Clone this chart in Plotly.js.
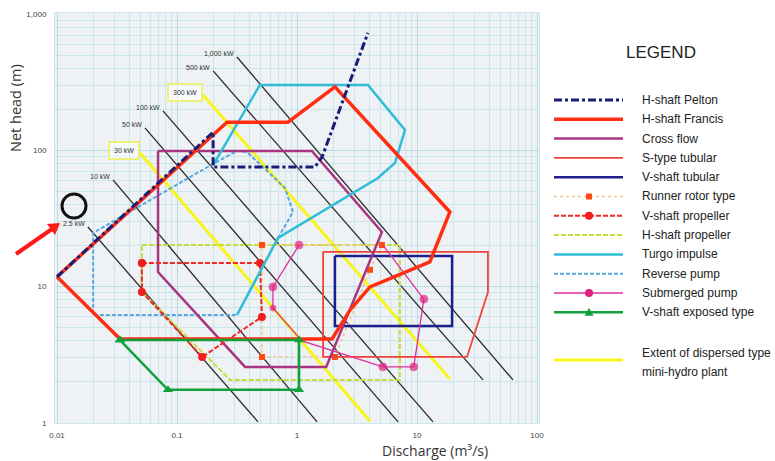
<!DOCTYPE html>
<html>
<head>
<meta charset="utf-8">
<script src="https://cdn.plot.ly/plotly-3.0.1.min.js"></script>
<style>
  html, body { margin: 0; padding: 0; background: #ffffff; }
  #chart { width: 775px; height: 461px; }
</style>
</head>
<body>
<div id="chart"></div>
<script>
// ---- Turbine application ranges: discharge Q (m3/s) vs net head H (m) ----
const peltonQ = [0.01, 0.2, 0.2, 1.41, 1.62, 3.9];
const peltonH = [11.8, 136, 75.5, 75.5, 89.5, 727];

const francisQ = [0.01, 0.261, 0.841, 2.07, 18.8, 12.8, 4.06, 2.77, 1.96, 0.0335, 0.01];
const francisH = [11.8, 161, 161, 292, 35.3, 15.2, 9.95, 6.75, 4.13, 4.13, 11.8];

const crossFlowQ = [0.0695, 1.33, 5.1, 1.75, 0.369, 0.0695, 0.0695];
const crossFlowH = [99, 99, 25.2, 2.58, 2.58, 12.8, 99];

const sTubularQ = [1.65, 39, 39, 26.1, 1.65, 1.65];
const sTubularH = [18, 18, 9.1, 3.05, 3.05, 18];

const vTubularQ = [2.07, 19.6, 19.6, 2.07, 2.07];
const vTubularH = [16.8, 16.8, 5.15, 5.15, 16.8];

const runnerRotorQ = [0.511, 5.1, 4.06, 2.07, 0.511, 0.511];
const runnerRotorH = [20.2, 20.2, 13.3, 3.05, 3.05, 20.2];

const vPropellerQ = [0.051, 0.491, 0.51, 0.162, 0.051, 0.051];
const vPropellerH = [14.9, 14.9, 6.0, 3.05, 9.15, 14.9];

const hPropellerQ = [0.051, 7.2, 7.2, 0.277, 0.051, 0.051];
const hPropellerH = [20.2, 20.2, 2.07, 2.07, 9.15, 20.2];

const turgoQ = [0.2, 0.491, 3.9, 7.94, 6.56, 4.73, 0.695, 0.316];
const turgoH = [78, 302, 302, 141, 80.9, 62.7, 22.8, 6.2];

const reversePumpQ = [0.695, 0.926, 0.794, 0.383, 0.316, 0.207, 0.02, 0.02, 0.316];
const reversePumpH = [22.8, 35.3, 53, 97.3, 99, 80.9, 24.8, 6.2, 6.2];

const submergedQ = [5.2, 11.4, 9.4, 5.2, 1.1, 0.63, 0.63, 1.04];
const submergedH = [20.2, 8.1, 2.58, 2.58, 4.0, 6.98, 9.95, 20.2];

const vExposedQ = [0.0335, 1.04, 1.04, 0.084, 0.0335];
const vExposedH = [4.06, 4.06, 1.75, 1.75, 4.06];

// ---- Constant output lines ----
const powerLabels = ['2.5 kW', '10 kW', '50 kW', '100 kW', '500 kW', '1,000 kW'];
const powerQStart = [0.0181, 0.0293, 0.0541, 0.0764, 0.2, 0.316];
const powerHStart = [27.4, 60.7, 146, 194.5, 383, 484];
const powerQEnd = [0.473, 1.47, 6.95, 13.6, 35.5, 63.1];
const powerHEnd = [1.02, 1.02, 1.02, 1.02, 2.07, 2.07];

// ---- Extent of dispersed type mini-hydro plant (30 kW and 300 kW) ----
const extentLabels = ['30 kW', '300 kW'];
const extentQStart = [0.0492, 0.165];
const extentHStart = [95.7, 255];
const extentQEnd = [4.06, 18.8];
const extentHEnd = [1.03, 2.1];

// ---- Axis ticks ----
const xTickVals = [0.01, 0.1, 1, 10, 100];
const xTickText = ['0.01', '0.1', '1', '10', '100'];
const yTickVals = [1, 10, 100, 1000];
const yTickText = ['1', '10', '100', '1,000'];

// ---- Legend entries ----
const legendNames = ['H-shaft Pelton', 'H-shaft Francis', 'Cross flow', 'S-type tubular',
  'V-shaft tubular', 'Runner rotor type', 'V-shaft propeller', 'H-shaft propeller',
  'Turgo impulse', 'Reverse pump', 'Submerged pump', 'V-shaft exposed type'];
const extentLegendLines = ['Extent of dispersed type', 'mini-hydro plant'];

// styles for each turbine type, in legend order
const styles = [
  { color: '#1b1b78', width: 3, dash: '8px,3px,3px,3px' },
  { color: '#ff2d12', width: 3.5, dash: 'solid' },
  { color: '#a83580', width: 2.5, dash: 'solid' },
  { color: '#f0443a', width: 1.8, dash: 'solid' },
  { color: '#1e1e8c', width: 2.5, dash: 'solid' },
  { color: '#f5c68a', width: 1.6, dash: 'dot', marker: 'square', mcolor: '#ff4a10', msize: 6 },
  { color: '#f02a2a', width: 2, dash: '5px,2px', marker: 'circle', mcolor: '#f01e1e', msize: 8 },
  { color: '#c9dc3c', width: 2, dash: '5px,2px' },
  { color: '#2ebcd6', width: 2.5, dash: 'solid' },
  { color: '#5aa6e0', width: 2, dash: '4px,2px' },
  { color: '#e0309a', width: 1.3, dash: 'solid', marker: 'circle', mcolor: '#e0207f', msize: 8 },
  { color: '#12a03c', width: 2.5, dash: 'solid', marker: 'triangle-up', mcolor: '#12a03c', msize: 9 }
];
const seriesQ = [peltonQ, francisQ, crossFlowQ, sTubularQ, vTubularQ, runnerRotorQ,
  vPropellerQ, hPropellerQ, turgoQ, reversePumpQ, submergedQ, vExposedQ];
const seriesH = [peltonH, francisH, crossFlowH, sTubularH, vTubularH, runnerRotorH,
  vPropellerH, hPropellerH, turgoH, reversePumpH, submergedH, vExposedH];
const yellow = '#f7f51c';

const traces = [];

// output lines first so the turbine outlines sit on top
powerLabels.forEach((lab, i) => {
  traces.push({
    x: [powerQStart[i], powerQEnd[i]], y: [powerHStart[i], powerHEnd[i]],
    mode: 'lines', line: { color: '#2a2a2a', width: 1.3 }, hoverinfo: 'skip', name: lab
  });
});
extentLabels.forEach((lab, i) => {
  traces.push({
    x: [extentQStart[i], extentQEnd[i]], y: [extentHStart[i], extentHEnd[i]],
    mode: 'lines', line: { color: yellow, width: 3 }, hoverinfo: 'skip', name: lab
  });
});

// draw order: lighter outlines below, bold ones above
const order = [7, 5, 9, 3, 4, 2, 10, 6, 8, 1, 11, 0];
order.forEach(k => {
  const s = styles[k];
  const t = {
    x: seriesQ[k], y: seriesH[k], name: legendNames[k], hoverinfo: 'skip',
    mode: s.marker ? 'lines+markers' : 'lines',
    line: { color: s.color, width: s.width, dash: s.dash }
  };
  if (s.marker) {
    t.marker = { symbol: s.marker, color: s.mcolor, size: s.msize };
    if (k === 10) t.marker.size = [0, 8, 8, 8, 0, 6, 8, 8];
  }
  traces.push(t);
});

// plot area geometry (pixels)
const L = 55, R = 236, T = 13, B = 38, W = 775, H = 461;
const plotW = W - L - R, plotH = H - T - B;
const px = x => (x - L) / plotW;
const py = y => (H - B - y) / plotH;

const annotations = [];
const shapes = [];

// labels on output lines
powerLabels.forEach((lab, i) => {
  annotations.push({
    x: Math.log10(powerQStart[i]), y: Math.log10(powerHStart[i]), xref: 'x', yref: 'y',
    text: lab, showarrow: false, xanchor: 'right', yanchor: 'middle', xshift: -1, yshift: 3,
    font: { family: 'Liberation Sans, Arial, sans-serif', size: 7, color: '#333' }
  });
});
extentLabels.forEach((lab, i) => {
  annotations.push({
    x: Math.log10(extentQStart[i]), y: Math.log10(extentHStart[i]), xref: 'x', yref: 'y',
    text: lab, showarrow: false, xanchor: 'right', yanchor: 'middle', xshift: 0, yshift: 2,
    bordercolor: '#eef07a', borderwidth: 2, borderpad: 4, bgcolor: 'rgba(255,255,255,0.5)',
    font: { family: 'Liberation Sans, Arial, sans-serif', size: 7, color: '#333' }
  });
});

// axis titles
annotations.push({
  x: px(435), y: py(450), xref: 'paper', yref: 'paper', showarrow: false,
  text: 'Discharge (m³/s)', xanchor: 'center', yanchor: 'middle',
  font: { family: 'Open Sans, sans-serif', size: 14, color: '#333' }
});
annotations.push({
  x: px(15), y: py(108), xref: 'paper', yref: 'paper', showarrow: false,
  text: 'Net head (m)', textangle: -90, xanchor: 'center', yanchor: 'middle',
  font: { family: 'Open Sans, sans-serif', size: 14.5, color: '#333' }
});

// legend block
annotations.push({
  x: px(661), y: py(53), xref: 'paper', yref: 'paper', showarrow: false,
  text: 'LEGEND', xanchor: 'center', yanchor: 'middle',
  font: { family: 'Liberation Sans, Arial, sans-serif', size: 17, color: '#222' }
});
const legX0 = 554, legX1 = 623, legMid = 589, legText = 640;
legendNames.forEach((name, i) => {
  const rowY = 100 + i * 19.3;
  const s = styles[i];
  shapes.push({
    type: 'line', xref: 'paper', yref: 'paper', x0: px(legX0), x1: px(legX1), y0: py(rowY), y1: py(rowY),
    line: { color: s.color, width: s.width, dash: s.dash }
  });
  if (s.marker) {
    const r = s.msize / 2;
    const m = {
      xref: 'paper', yref: 'paper', xsizemode: 'pixel', ysizemode: 'pixel',
      xanchor: px(legMid), yanchor: py(rowY), fillcolor: s.mcolor, line: { width: 0 }
    };
    if (s.marker === 'circle') Object.assign(m, { type: 'circle', x0: -r, x1: r, y0: -r, y1: r });
    else if (s.marker === 'square') Object.assign(m, { type: 'rect', x0: -r, x1: r, y0: -r, y1: r });
    else Object.assign(m, { type: 'path', path: 'M-4.5,-3.5L4.5,-3.5L0,4.5Z' });
    shapes.push(m);
  }
  annotations.push({
    x: px(legText), y: py(rowY), xref: 'paper', yref: 'paper', showarrow: false,
    text: name, xanchor: 'left', yanchor: 'middle',
    font: { family: 'Liberation Sans, Arial, sans-serif', size: 12, color: '#222' }
  });
});
shapes.push({
  type: 'line', xref: 'paper', yref: 'paper', x0: px(legX0), x1: px(legX1), y0: py(360), y1: py(360),
  line: { color: yellow, width: 3 }
});
extentLegendLines.forEach((txt, j) => {
  annotations.push({
    x: px(legText), y: py(353 + j * 19), xref: 'paper', yref: 'paper', showarrow: false,
    text: txt, xanchor: 'left', yanchor: 'middle',
    font: { family: 'Liberation Sans, Arial, sans-serif', size: 12, color: '#222' }
  });
});

// highlight around the 2.5 kW label with a red pointer
shapes.push({
  type: 'circle', xref: 'paper', yref: 'paper', xsizemode: 'pixel', ysizemode: 'pixel',
  xanchor: px(74), yanchor: py(206), x0: -12, x1: 12, y0: -12, y1: 12,
  line: { color: '#111', width: 3 }, layer: 'above'
});
shapes.push({
  type: 'line', xref: 'paper', yref: 'paper', x0: px(16), y0: py(254), x1: px(52), y1: py(229),
  line: { color: '#ff1a1a', width: 4 }, layer: 'above'
});
shapes.push({
  type: 'path', xref: 'paper', yref: 'paper', xsizemode: 'pixel', ysizemode: 'pixel',
  xanchor: px(60), yanchor: py(223), path: 'M0,0L-13,-1L-5,-12Z',
  fillcolor: '#ff1a1a', line: { width: 0 }, layer: 'above'
});

// minor grid positions (2..9 in each decade)
const minorX = [], minorY = [];
for (let e = -2; e < 2; e++) for (let d = 2; d <= 9; d++) minorX.push(d * Math.pow(10, e));
for (let e = 0; e < 3; e++) for (let d = 2; d <= 9; d++) minorY.push(d * Math.pow(10, e));

const tickFont = { family: 'Liberation Sans, Arial, sans-serif', size: 8, color: '#444' };

const layout = {
  width: W, height: H,
  margin: { l: L, r: R, t: T, b: B, pad: 0 },
  paper_bgcolor: '#ffffff', plot_bgcolor: '#eef2f4',
  showlegend: false, hovermode: false,
  xaxis: {
    type: 'log', range: [-2 - 2 / 120, 2 + 2 / 120], tickmode: 'array',
    tickvals: xTickVals, ticktext: xTickText, tickfont: tickFont,
    ticks: 'outside', ticklen: 4, tickcolor: 'rgba(0,0,0,0)',
    showgrid: true, gridcolor: '#b8dbe5', gridwidth: 1,
    minor: { tickmode: 'array', tickvals: minorX, showgrid: true, gridcolor: '#cbe5ec', gridwidth: 1, ticks: '' },
    zeroline: false, showline: true, linecolor: '#cde6ee', mirror: true
  },
  yaxis: {
    type: 'log', range: [0, 3 + 1 / 136.3], tickmode: 'array',
    tickvals: yTickVals, ticktext: yTickText, tickfont: tickFont,
    ticks: 'outside', ticklen: 6, tickcolor: 'rgba(0,0,0,0)',
    showgrid: true, gridcolor: '#b8dbe5', gridwidth: 1,
    minor: { tickmode: 'array', tickvals: minorY, showgrid: true, gridcolor: '#cbe5ec', gridwidth: 1, ticks: '' },
    zeroline: false, showline: true, linecolor: '#cde6ee', mirror: true
  },
  annotations: annotations,
  shapes: shapes
};

Plotly.newPlot('chart', traces, layout, { displayModeBar: false, staticPlot: true });
</script>
</body>
</html>
